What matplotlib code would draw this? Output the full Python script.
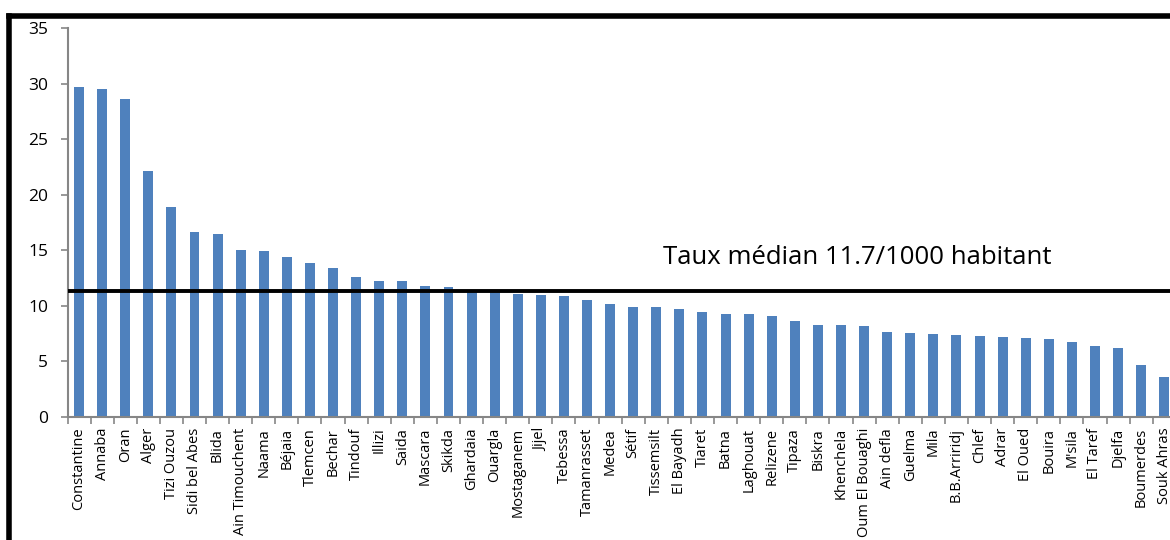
import numpy as np
import matplotlib.pyplot as plt
from matplotlib.lines import Line2D

plt.rcParams['font.family'] = ['Open Sans', 'DejaVu Sans']

wilayas = ['Constantine', 'Annaba', 'Oran', 'Alger', 'Tizi Ouzou', 'Sidi bel Abes',
           'Blida', 'Ain Timouchent', 'Naama', 'Béjaia', 'Tlemcen', 'Bechar',
           'Tindouf', 'Illizi', 'Saida', 'Mascara', 'Skikda', 'Ghardaia', 'Ouargla',
           'Mostaganem', 'Jijel', 'Tebessa', 'Tamanrasset', 'Medea', 'Sétif',
           'Tissemsilt', 'El Bayadh', 'Tiaret', 'Batna', 'Laghouat', 'Relizene',
           'Tipaza', 'Biskra', 'Khenchela', 'Oum El Bouaghi', 'Ain defla', 'Guelma',
           'Mila', 'B.B.Arriridj', 'Chlef', 'Adrar', 'El Oued', 'Bouira', "M'sila",
           'El Taref', 'Djelfa', 'Boumerdes', 'Souk Ahras']
taux = [29.7, 29.5, 28.6, 22.1, 18.85, 16.65, 16.45, 15.0, 14.92, 14.35, 13.85,
        13.38, 12.62, 12.22, 12.2, 11.8, 11.7, 11.35, 11.25, 11.05, 10.96, 10.9,
        10.5, 10.12, 9.9, 9.9, 9.73, 9.43, 9.28, 9.25, 9.04, 8.6, 8.25, 8.23,
        8.2, 7.65, 7.5, 7.45, 7.33, 7.27, 7.2, 7.09, 7.02, 6.75, 6.4, 6.16,
        4.68, 3.6]
median_line = 11.35
median_label = 'Taux médian 11.7/1000 habitant'

fig = plt.figure(figsize=(11.7, 5.4), dpi=100)
ax = fig.add_axes([67.5 / 1170, 1 - 416.7 / 540, 1108.3 / 1170, (416.7 - 28) / 540])

x = np.arange(len(wilayas))
ax.bar(x, taux, width=0.43, color='#4F81BD', zorder=2)
ax.axhline(median_line, color='black', lw=2.8, zorder=3)
ax.text(25.3, 14.3, median_label, fontsize=18.5, va='center', ha='left')

ax.set_xlim(-0.5, len(wilayas) - 0.5)
ax.set_ylim(0, 35)
ax.set_yticks(range(0, 36, 5))
ax.set_xticks(x)
ax.set_xticklabels(wilayas, rotation=90, fontsize=10.5)
ax.set_xticks(np.arange(-0.5, len(wilayas)), minor=True)
ax.tick_params(axis='x', which='major', length=0, pad=8)
ax.tick_params(axis='x', which='minor', length=5, width=1.2, color='#868686')
ax.tick_params(axis='y', length=5, width=1.2, color='#868686', labelsize=12.5, pad=9)

for side in ['top', 'right']:
    ax.spines[side].set_visible(False)
for side in ['left', 'bottom']:
    ax.spines[side].set_color('#868686')
    ax.spines[side].set_linewidth(1.5)

# thick frame around the chart, cut off on the right and bottom
fx = 9 / 1170
fy = 1 - 15.5 / 540
fig.add_artist(Line2D([fx, fx], [-0.02, fy], color='black', lw=4, transform=fig.transFigure))
fig.add_artist(Line2D([fx, 1.02], [fy, fy], color='black', lw=4, transform=fig.transFigure))

fig.savefig('out.png', dpi=100)
